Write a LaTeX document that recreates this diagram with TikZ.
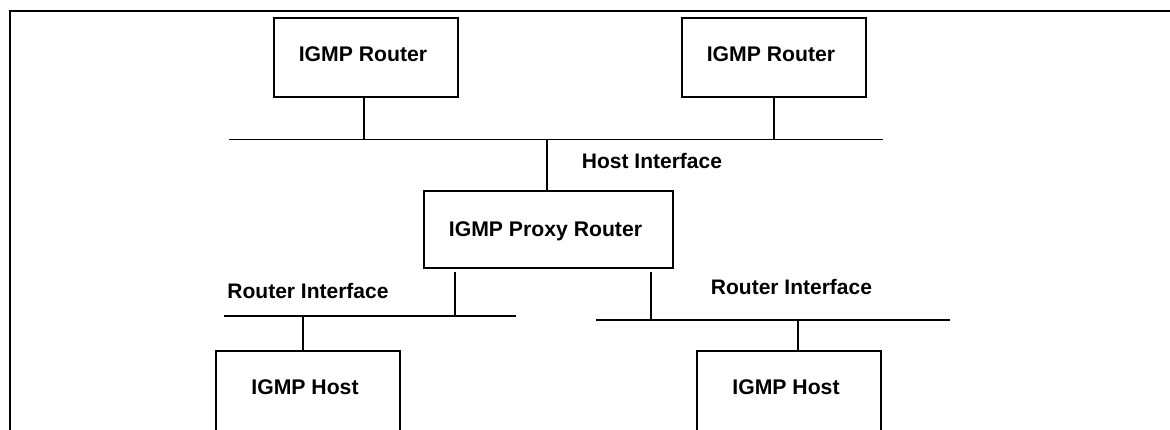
\documentclass[tikz,border=0pt]{standalone}
\usepackage{fontspec}
\setmainfont{Liberation Sans}
\begin{document}
\begin{tikzpicture}[x=1pt,y=-1pt,
  wire/.style={line width=1.4pt},
  box/.style={draw, line width=1.4pt, inner sep=0pt, minimum width=184pt,
    font=\bfseries\fontsize{21.2}{25}\selectfont, text height=15pt,
    execute at begin node=\hspace*{-6pt}},
  lbl/.style={inner sep=0pt, font=\bfseries\fontsize{21}{25}\selectfont,
    text height=15pt, text depth=0pt}]
\useasboundingbox (0,0) rectangle (1170,430);
\clip (0,0) rectangle (1170,430);

% outer frame (top and left edges)
\draw[wire] (10,440) -- (10,11) -- (1180,11);

% upstream routers
\node[box, minimum height=79pt, text depth=7.4pt] (r1) at (366,57.5) {IGMP Router};
\node[box, minimum height=79pt, text depth=7.4pt] (r2) at (774,57.5) {IGMP Router};

% proxy
\node[box, minimum width=249pt, minimum height=77pt, text depth=1pt] (proxy) at (548.5,229.5) {IGMP Proxy Router};

% downstream hosts
\node[box, minimum height=90pt, text depth=18pt] (h1) at (308,396) {IGMP Host};
\node[box, minimum height=90pt, text depth=18pt] (h2) at (789,396) {IGMP Host};

% interface labels
\node[lbl] (hostif) at (652,161) {Host Interface};
\node[lbl] (rif1) at (308,291) {Router Interface};
\node[lbl] (rif2) at (791.5,287) {Router Interface};

% upstream segment
\coordinate (busTl) at (229,139.5);
\coordinate (busTr) at (883,139.5);
\coordinate (tapR1) at (364,139.5);
\coordinate (tapR2) at (774,139.5);
\coordinate (tapP) at (547,139.5);
\draw[wire] (busTl) -- (busTr);
\draw[wire] (r1.south -| tapR1) -- (tapR1);
\draw[wire] (r2.south -| tapR2) -- (tapR2);
\draw[wire] (tapP) -- (proxy.north -| tapP);

% left downstream segment
\coordinate (busLl) at (224,316);
\coordinate (busLr) at (516,316);
\coordinate (tapPL) at (455,316);
\coordinate (tapH1) at (303,316);
\draw[wire] (busLl) -- (busLr);
\draw[wire, shorten <=3.5pt] (proxy.south -| tapPL) -- (tapPL);
\draw[wire] (tapH1) -- (h1.north -| tapH1);

% right downstream segment
\coordinate (busRl) at (596,320);
\coordinate (busRr) at (950,320);
\coordinate (tapPR) at (651,320);
\coordinate (tapH2) at (798,320);
\draw[wire] (busRl) -- (busRr);
\draw[wire, shorten <=3.5pt] (proxy.south -| tapPR) -- (tapPR);
\draw[wire] (tapH2) -- (h2.north -| tapH2);
\end{tikzpicture}
\end{document}
